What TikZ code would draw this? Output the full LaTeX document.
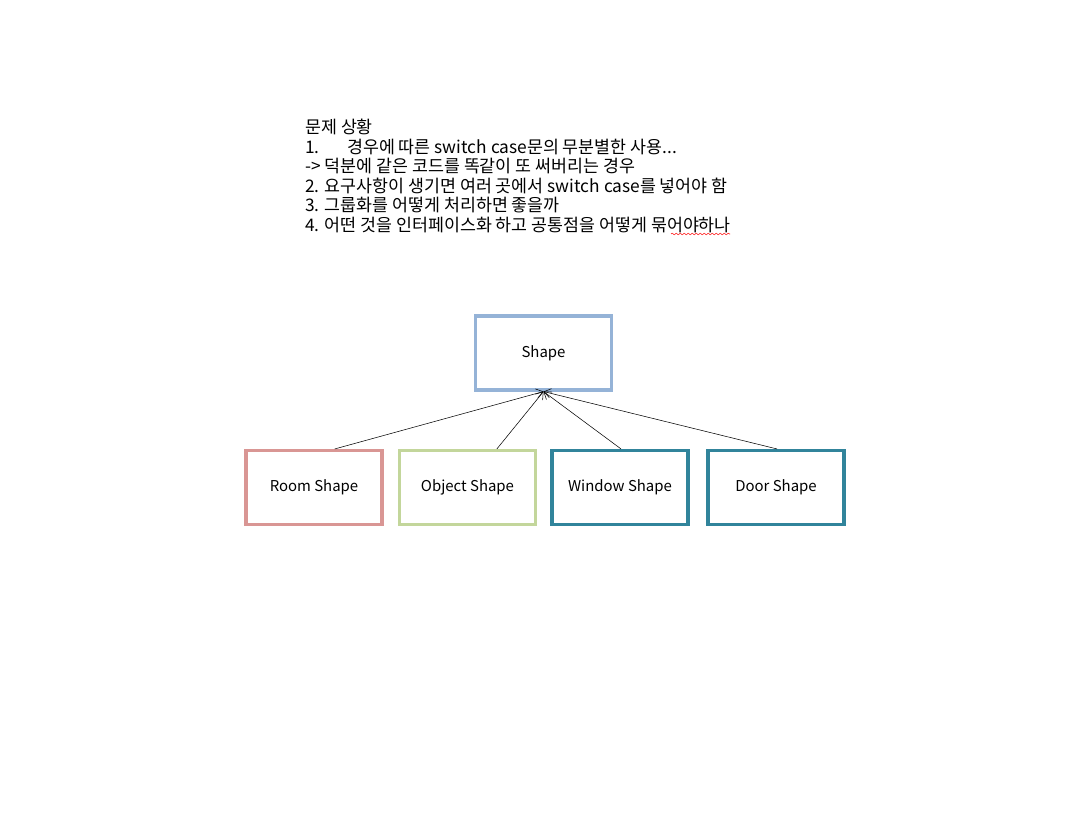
\documentclass[tikz,border=0pt]{standalone}
\usepackage{fontspec}
\setmainfont{Noto Sans CJK KR}
\usetikzlibrary{positioning,arrows.meta,decorations.pathmorphing}
\definecolor{topblue}{HTML}{95B3D7}
\definecolor{roomred}{HTML}{D99694}
\definecolor{objgreen}{HTML}{C3D69B}
\definecolor{tealblue}{HTML}{31849B}

\begin{document}
\begin{tikzpicture}[
    x=0.75pt, y=-0.75pt,
    box/.style={draw, line width=2.3pt, minimum width=102pt, minimum height=55.5pt,
        inner sep=0pt, font=\fontsize{11.2}{12}\selectfont},
    link/.style={draw=black, thin, -{Straight Barb[length=5pt,width=7pt]}}
]
\useasboundingbox (0,0) rectangle (1090,814);

% Problem description
\node[anchor=base west, align=left, inner sep=0pt, font=\fontsize{13}{14.6}\selectfont] (notes) at (305,231)
    {문제 상황\\
     \makebox[31.5pt][l]{1.}경우에 따른 switch case문의 무분별한 사용...\\
     -> 덕분에 같은 코드를 똑같이 또 써버리는 경우\\
     2. 요구사항이 생기면 여러 곳에서 switch case를 넣어야 함\\
     3. 그룹화를 어떻게 처리하면 좋을까\\
     4. 어떤 것을 인터페이스화 하고 공통점을 어떻게 묶어야하나};
\draw[red, thin, decorate, decoration={snake, amplitude=0.6pt, segment length=3pt}]
    (671,234) -- (730,234);

% Parent
\node[box, draw=topblue] (shape) at (543.5,353) {Shape};

% Children
\node[box, draw=roomred] (room) at (314,487.5) {Room Shape};
\node[box, draw=objgreen] (object) at (467.5,487.5) {Object Shape};
\node[box, draw=tealblue] (window) at (620,487.5) {Window Shape};
\node[box, draw=tealblue] (door) at (776,487.5) {Door Shape};

% Links children -> parent
\draw[link] ([xshift=15.5pt]room.north) -- (shape.south);
\draw[link] ([xshift=22pt]object.north) -- (shape.south);
\draw[link] ([xshift=0.8pt]window.north) -- (shape.south);
\draw[link] ([xshift=0.8pt]door.north) -- (shape.south);

\end{tikzpicture}
\end{document}
